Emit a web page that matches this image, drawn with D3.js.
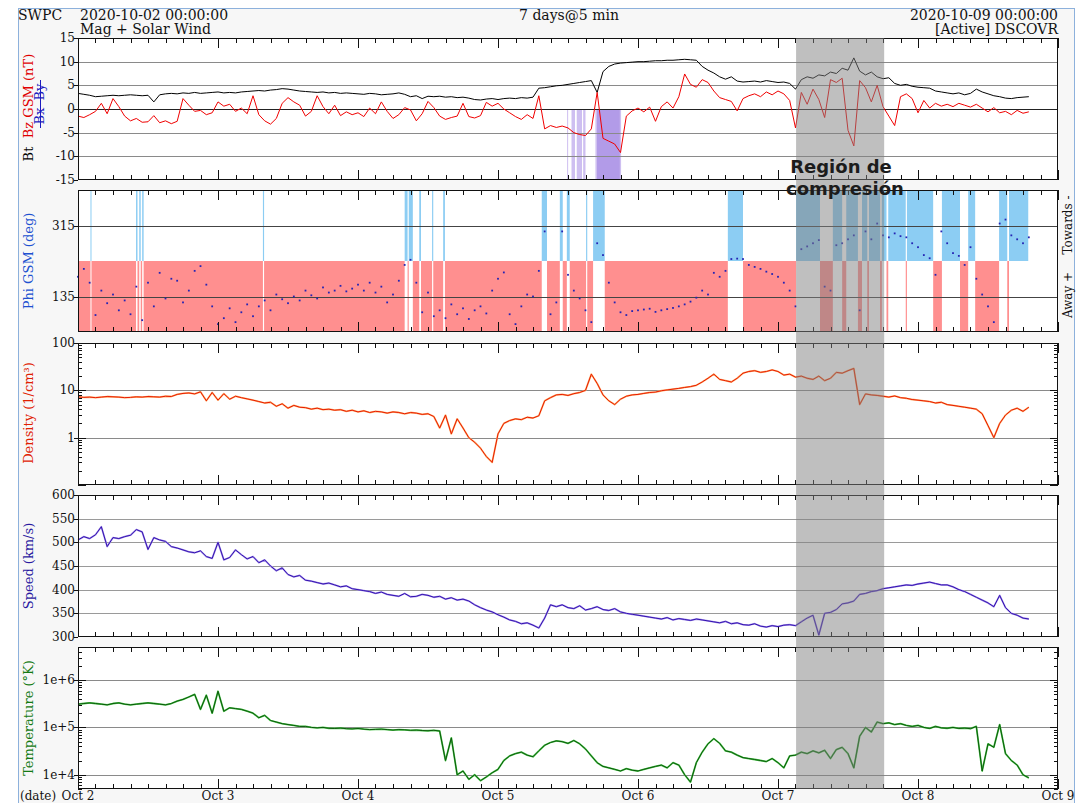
<!DOCTYPE html>
<html>
<head>
<meta charset="utf-8">
<script src="https://cdn.jsdelivr.net/npm/d3@7/dist/d3.min.js"></script>
<style>
    body { margin: 0; background: #fff; }
    svg text { font-family: "DejaVu Serif", serif; }
</style>
</head>
<body>
<svg id="chart" width="1077" height="803"></svg>
<script>
'use strict';

// one value per hour, starting 2020-10-02 00:00 UTC
var startTime = Date.UTC(2020, 9, 2, 0, 0, 0);
var hourMs = 3600 * 1000;
var dayLabels = ['Oct 2', 'Oct 3', 'Oct 4', 'Oct 5', 'Oct 6', 'Oct 7', 'Oct 8', 'Oct 9'];

var btValues = [3.3,3.1,2.9,2.6,2.7,2.8,2.9,2.8,2.9,3.0,2.9,2.8,2.9,1.5,3.0,
    3.2,3.3,3.2,3.4,3.3,3.5,3.3,3.4,3.5,3.6,
    3.4,3.5,3.4,3.6,3.7,3.8,3.9,3.8,4.0,4.1,4.3,
    4.2,4.0,3.8,3.7,3.6,3.5,3.6,3.4,3.5,3.3,3.4,3.3,
    3.2,3.1,3.3,3.2,3.0,3.1,3.2,3.4,3.1,2.6,2.8,2.2,2.7,
    2.6,2.7,2.5,2.6,2.4,2.5,2.3,2.0,1.9,2.1,2.2,
    2.0,2.2,2.3,2.2,2.4,2.3,2.5,
    4.4,4.5,4.7,4.9,5.0,5.2,5.4,5.6,5.8,6.0,
    3.5,7.9,9.0,9.5,9.7,
    9.8,9.9,10.0,10.0,10.1,10.2,10.2,10.3,10.3,10.4,10.5,10.4,10.3,
    9.0,8.2,7.6,6.8,6.3,6.8,5.9,5.7,5.8,5.9,5.7,6.0,5.8,5.6,5.7,5.4,
    4.2,6.2,6.8,6.5,7.2,7.0,7.8,7.5,8.6,
    8.2,10.8,8.0,7.2,7.8,6.8,6.4,6.6,
    5.4,5.0,5.2,4.8,4.6,4.5,4.4,
    3.8,3.6,3.4,3.2,3.4,3.0,3.3,4.2,
    3.6,3.2,2.8,2.6,2.3,2.2,2.4,2.5,2.6];

var bzValues = [-1.5,-1.8,-1.2,-0.5,1.2,-1.0,2.2,0.5,-1.5,-2.5,
    -2.0,-2.8,-2.7,-1.4,-2.9,-2.5,-3.1,-2.6,2.2,0.8,
    -0.5,-0.3,-1.2,-0.8,1.5,0.6,1.0,-0.5,0.2,-1.0,
    2.8,-1.2,-2.5,-3.2,-2.0,1.2,2.4,1.5,0.8,-1.5,
    -0.5,2.8,0.5,-1.0,0.8,-1.4,-0.6,-1.2,-0.8,-1.6,
    0.2,-1.0,1.5,-0.5,-2.0,-1.2,0.3,-0.2,-2.5,-1.0,
    1.6,0.3,-1.5,-2.2,-1.8,-1.5,1.2,-1.6,-1.9,-1.4,
    1.4,0.6,1.2,0.0,-0.8,-1.6,-2.2,-1.2,-2.0,2.8,
    -4.2,-3.5,-3.9,-3.6,-4.0,-5.0,-5.4,-5.6,-4.2,3.5,
    -6.2,-6.8,-7.4,-9.2,-1.5,-0.4,0.2,-0.6,0.4,-2.6,
    0.5,1.5,0.2,2.6,7.4,5.2,4.6,6.2,5.6,3.8,
    2.4,2.0,1.6,-0.4,2.2,2.8,3.2,2.6,3.6,3.0,
    3.8,3.2,1.8,-4.0,3.5,1.0,4.2,2.0,-1.8,6.2,
    5.6,6.5,-4.5,-7.8,6.0,4.5,1.5,5.0,0.5,-1.5,
    -3.5,2.6,3.2,2.2,-0.8,1.8,0.2,1.2,0.6,1.0,
    0.5,1.2,0.8,0.4,1.0,0.2,-0.6,0.3,-0.8,-0.5,
    -1.2,-0.3,-0.9,-0.6];

// hours with strong southward Bz (lavender bars)
var bzSouthLight = [[83.85, 84.0], [84.6, 85.2], [85.5, 86.4], [86.6, 87.0], [88.7, 88.9], [92.9, 93.1]];
var bzSouthSolid = [[88.9, 92.9]];

var phiValues = [185,205,170,88,150,118,140,100,125,90,
    160,75,170,110,195,130,180,175,120,150,
    200,212,165,110,65,80,105,70,95,115,
    85,110,125,100,140,128,118,135,125,150,
    138,130,158,145,150,162,148,155,165,150,
    170,145,160,120,140,175,215,228,170,95,
    145,85,100,80,115,90,105,78,100,110,
    92,150,180,196,90,65,110,140,135,200,
    300,90,120,300,190,150,130,100,70,270,
    240,170,120,95,88,98,100,102,104,96,
    100,103,106,110,115,122,132,150,140,195,
    185,200,230,231,230,215,210,205,198,192,
    185,170,150,110,255,262,270,278,160,150,
    265,270,280,290,100,300,280,320,290,285,
    295,288,285,270,260,240,232,190,300,270,
    245,238,215,260,180,140,110,70,320,330,
    290,280,270,285];

// hours where the field points towards the sun, the rest is away
var towardsIntervals = [[2.14, 2.31], [9.95, 10.2], [10.5, 10.75], [11.0, 11.25], [31.7, 31.9],
    [56.0, 56.5], [56.7, 57.4], [58.5, 58.8], [60.7, 60.9], [62.6, 62.9],
    [79.5, 80.4], [82.6, 83.1], [83.8, 84.3], [87.1, 87.3], [88.3, 90.3], [111.4, 114.0],
    [123.1, 127.2], [129.4, 131.0], [131.7, 133.7], [134.4, 135.3], [135.6, 137.5],
    [137.8, 138.6], [138.9, 141.9], [142.1, 146.6], [148.1, 151.2], [152.6, 153.8],
    [157.9, 159.3], [159.6, 162.9]];
var dataEndHour = 162.9;

var densityValues = [7.3,7.1,7.2,7.0,7.2,7.4,7.3,7.2,7.0,7.1,7.3,7.2,7.4,7.3,7.2,7.5,7.4,
    8.2,8.6,8.8,8.4,
    9.3,6.0,9.0,6.2,8.5,6.5,
    7.5,7.0,6.6,6.2,5.8,
    5.4,5.6,4.6,5.2,4.2,4.8,4.4,
    4.3,4.0,4.2,3.9,4.0,3.8,3.9,3.6,3.8,3.5,3.7,3.4,3.6,3.5,
    3.3,3.5,3.4,3.2,3.4,3.3,3.1,3.2,
    2.8,1.6,3.0,1.2,2.5,
    1.6,1.0,0.8,0.6,0.4,0.3,
    1.2,2.0,2.3,2.5,2.4,2.7,2.6,2.9,
    6.0,7.0,8.0,
    8.2,7.8,8.5,9.0,10.0,
    22,
    14,8.0,6.0,5.0,6.5,
    7.5,8.0,8.2,8.6,9.0,9.2,9.8,10.2,10.6,11.0,11.5,12.0,12.8,
    15,18,22,17,
    16,15,18,
    23,25,26,24,25,27,25,
    21,22,19,20,18,17,20,16,18,
    24,23,26,29,
    5.0,
    8.4,8.0,7.8,7.5,7.2,7.6,7.0,6.8,6.4,6.2,
    6.0,5.8,5.4,5.6,5.0,4.8,4.6,4.4,4.2,4.0,
    3.2,1.8,1.0,2.0,
    3.0,3.8,4.2,3.6,4.4];

var speedValues = [505,512,508,516,533,491,510,508,512,515,527,522,485,510,505,502,
    491,488,484,480,478,482,
    470,466,500,463,468,
    484,474,465,470,457,
    463,450,440,446,432,427,430,
    420,418,415,412,414,410,406,408,402,400,
    398,396,392,395,390,388,386,392,385,386,
    390,388,384,386,380,383,378,380,376,
    368,362,357,353,
    347,342,336,333,328,330,325,319,
    340,368,364,
    368,362,360,366,357,360,364,358,356,360,
    353,350,348,346,344,342,340,338,341,336,339,337,335,338,
    336,334,332,330,333,328,330,326,325,328,323,321,324,322,
    325,326,324,
    332,340,346,304,350,352,358,
    370,372,376,
    390,392,396,398,
    402,404,406,408,410,409,412,414,416,413,410,
    410,406,400,396,390,384,
    378,372,364,388,
    362,350,346,340,338];

var tempValues = [3.1e5,3.2e5,3.3e5,3.2e5,3.1e5,3.0e5,3.2e5,3.3e5,3.1e5,3.0e5,3.1e5,3.2e5,3.3e5,3.2e5,3.1e5,3.0e5,3.2e5,
    3.6e5,3.9e5,4.4e5,5.0e5,
    2.4e5,4.8e5,2.0e5,5.8e5,2.2e5,
    2.6e5,2.5e5,2.4e5,
    2.2e5,2.0e5,1.6e5,1.8e5,
    1.4e5,1.3e5,1.2e5,1.15e5,1.1e5,1.05e5,
    1.05e5,1.0e5,0.98e5,1.0e5,0.96e5,0.95e5,0.97e5,0.94e5,0.93e5,0.95e5,0.92e5,0.9e5,
    0.91e5,0.92e5,0.9e5,0.88e5,0.9e5,0.89e5,0.87e5,0.88e5,0.86e5,0.85e5,0.87e5,0.84e5,
    2.0e4,6.0e4,1.0e4,
    1.2e4,8.0e3,1.0e4,7.5e3,9.0e3,1.1e4,
    1.3e4,2.0e4,2.5e4,2.8e4,3.0e4,2.6e4,2.4e4,3.2e4,
    4.2e4,4.8e4,5.2e4,5.0e4,4.6e4,5.3e4,4.5e4,
    3.5e4,2.5e4,1.8e4,
    1.5e4,1.4e4,1.3e4,1.2e4,1.35e4,1.25e4,1.2e4,
    1.3e4,1.4e4,1.5e4,1.6e4,1.4e4,1.8e4,1.6e4,1.0e4,7.0e3,1.8e4,
    3.0e4,4.5e4,5.8e4,4.6e4,3.2e4,3.0e4,2.6e4,2.3e4,2.2e4,2.1e4,2.0e4,1.9e4,2.2e4,1.8e4,
    1.4e4,2.5e4,2.6e4,3.0e4,2.8e4,3.2e4,2.9e4,3.3e4,2.2e4,3.4e4,3.8e4,2.8e4,1.4e4,
    6.5e4,1.0e5,8.0e4,1.3e5,1.2e5,1.25e5,1.15e5,1.2e5,1.1e5,1.05e5,1.1e5,1.0e5,0.95e5,
    1.05e5,0.98e5,0.96e5,1.0e5,0.95e5,0.97e5,0.94e5,1.05e5,
    1.2e4,4.5e4,3.8e4,1.15e5,2.8e4,2.0e4,1.6e4,1.0e4,8.6e3];

// compression region, hours since start (Oct 7 ~03:05 to ~18:10)
var compression = [123.1, 138.2];

var bzTicks = [-15, -10, -5, 0, 5, 10, 15];
var phiTicks = [135, 315];
var densityTicks = [1, 10, 100];
var speedTicks = [300, 350, 400, 450, 500, 550, 600];
var tempTicks = [1e4, 1e5, 1e6];

var svg = d3.select('#chart');
var left = 78, right = 1058;
var panelTops = [38, 190, 343, 495, 647];
var panelH = 142;

function hourToDate(h) {
    return new Date(startTime + h * hourMs);
}

var x = d3.scaleUtc()
    .domain([new Date(startTime), new Date(startTime + 7 * 24 * hourMs)])
    .range([left, right]);

var yScales = [
    d3.scaleLinear().domain([-15, 15]),
    d3.scaleLinear().domain([45, 405]),
    d3.scaleLog().domain([0.1, 100]),
    d3.scaleLinear().domain([300, 600]),
    d3.scaleLog().domain([5e3, 5e6])
];
yScales.forEach(function (s, i) {
    s.range([panelTops[i] + panelH, panelTops[i]]);
});
var yBz = yScales[0], yPhi = yScales[1], yDen = yScales[2], ySpd = yScales[3], yTmp = yScales[4];

// outer frame
svg.append('rect')
    .attr('x', 18.5).attr('y', 8.5)
    .attr('width', 1056).attr('height', 800)
    .attr('fill', '#f7f7f7')
    .attr('stroke', '#8db1dc');

var layers = panelTops.map(function (top, i) {
    var g = svg.append('g').attr('class', 'panel panel' + i);
    g.append('rect')
        .attr('x', left).attr('y', top)
        .attr('width', right - left).attr('height', panelH)
        .attr('fill', '#fff');
    return g;
});

function xr(h) { return x(hourToDate(h)); }

function bars(g, intervals, y0, y1, fill, opacity) {
    g.selectAll(null)
        .data(intervals)
        .enter()
        .append('rect')
        .attr('x', function (d) { return xr(d[0]); })
        .attr('width', function (d) { return Math.max(1, xr(d[1]) - xr(d[0])); })
        .attr('y', Math.min(y0, y1))
        .attr('height', Math.abs(y1 - y0))
        .attr('fill', fill)
        .attr('opacity', opacity);
}

function grid(g, scale, values, color) {
    g.selectAll(null)
        .data(values)
        .enter()
        .append('line')
        .attr('x1', left).attr('x2', right)
        .attr('y1', function (d) { return Math.round(scale(d)) + 0.5; })
        .attr('y2', function (d) { return Math.round(scale(d)) + 0.5; })
        .attr('stroke', color)
        .attr('stroke-width', 1);
}

function series(g, values, scale, color, width) {
    var line = d3.line()
        .x(function (d, i) { return xr(i); })
        .y(function (d) { return scale(d); });
    g.append('path')
        .datum(values)
        .attr('d', line)
        .attr('fill', 'none')
        .attr('stroke', color)
        .attr('stroke-width', width)
        .attr('stroke-linejoin', 'round');
}

// panel 1: Bt / Bz
bars(layers[0], bzSouthLight, yBz(0), yBz(-15), '#c9b8f0', 0.9);
bars(layers[0], bzSouthSolid, yBz(0), yBz(-15), '#b29be8', 1);
grid(layers[0], yBz, [-10, -5, 5, 10], '#8a8a8a');
grid(layers[0], yBz, [0], '#222');
series(layers[0], btValues, yBz, '#000', 1);
series(layers[0], bzValues, yBz, '#f00000', 1);

// panel 2: phi, towards/away bands
var awayIntervals = [];
var cursor = 0;
towardsIntervals.forEach(function (d) {
    if (d[0] > cursor) awayIntervals.push([cursor, d[0]]);
    cursor = d[1];
});
if (cursor < dataEndHour) awayIntervals.push([cursor, dataEndHour]);

bars(layers[1], awayIntervals, yPhi(45), yPhi(225), '#ff8f8f', 1);
bars(layers[1], towardsIntervals, yPhi(225), yPhi(405), '#8ccdf3', 1);
grid(layers[1], yPhi, phiTicks, '#444');
layers[1].selectAll('.phiDot')
    .data(phiValues)
    .enter()
    .append('rect')
    .attr('class', 'phiDot')
    .attr('x', function (d, i) { return xr(i) - 0.9; })
    .attr('y', function (d) { return yPhi(d) - 0.9; })
    .attr('width', 1.8).attr('height', 1.8)
    .attr('fill', '#2424b4');

// panel 3: density
grid(layers[2], yDen, [1, 10], '#8a8a8a');
series(layers[2], densityValues, yDen, '#ffb070', 1.8);
series(layers[2], densityValues, yDen, '#e81c00', 1);

// panel 4: speed
grid(layers[3], ySpd, [350, 400, 450, 500, 550], '#9a9a9a');
series(layers[3], speedValues, ySpd, '#a996ea', 1.8);
series(layers[3], speedValues, ySpd, '#3412b0', 1);

// panel 5: temperature
grid(layers[4], yTmp, tempTicks, '#8a8a8a');
series(layers[4], tempValues, yTmp, '#4cc44c', 1.8);
series(layers[4], tempValues, yTmp, '#0b5a0b', 1);

// frames, time ticks, y ticks
var timeTicks = d3.utcHour.every(3).range(hourToDate(0), hourToDate(168.01));

layers.forEach(function (g, i) {
    var top = panelTops[i], bottom = top + panelH;
    var s = yScales[i];

    g.append('rect')
        .attr('x', left + 0.5).attr('y', top + 0.5)
        .attr('width', right - left - 1).attr('height', panelH - 1)
        .attr('fill', 'none')
        .attr('stroke', '#111');

    g.selectAll('.tt')
        .data(timeTicks)
        .enter()
        .append('path')
        .attr('class', 'tt')
        .attr('d', function (d) {
            var len = d.getUTCHours() === 0 ? 10 : 5;
            var px = Math.round(x(d)) + 0.5;
            return 'M' + px + ',' + top + 'v' + len + 'M' + px + ',' + bottom + 'v' + (-len);
        })
        .attr('stroke', '#111');

    if (i === 2 || i === 4) {
        var dom = s.domain();
        var minor = [];
        for (var e = Math.floor(Math.log10(dom[0])); e <= Math.ceil(Math.log10(dom[1])); e++) {
            for (var m = 1; m < 10; m++) {
                var v = m * Math.pow(10, e);
                if (v >= dom[0] && v <= dom[1]) minor.push({v: v, major: m === 1});
            }
        }
        g.selectAll('.lt')
            .data(minor)
            .enter()
            .append('path')
            .attr('class', 'lt')
            .attr('d', function (d) {
                var py = Math.round(s(d.v)) + 0.5;
                var len = d.major ? 8 : 4;
                return 'M' + left + ',' + py + 'h' + len + 'M' + right + ',' + py + 'h' + (-len);
            })
            .attr('stroke', '#111');
    }
});

function leftTicks(i, values, fmt) {
    var s = yScales[i];
    var g = layers[i];
    g.selectAll('.yl')
        .data(values)
        .enter()
        .append('path')
        .attr('d', function (d) {
            return 'M' + (left - 4) + ',' + (Math.round(s(d)) + 0.5) + 'h4';
        })
        .attr('stroke', '#111');
    g.selectAll('.ylab')
        .data(values)
        .enter()
        .append('text')
        .attr('x', left - 3)
        .attr('y', function (d) { return s(d) + 4; })
        .attr('text-anchor', 'end')
        .attr('font-size', 12)
        .attr('fill', '#111')
        .text(fmt);
}
leftTicks(0, bzTicks, function (d) { return d; });
leftTicks(1, phiTicks, function (d) { return d; });
leftTicks(2, densityTicks, function (d) { return d; });
leftTicks(3, speedTicks, function (d) { return d; });
leftTicks(4, tempTicks, function (d) { return '1e+' + Math.round(Math.log10(d)); });

// compression region overlay
svg.append('rect')
    .attr('x', xr(compression[0]))
    .attr('width', xr(compression[1]) - xr(compression[0]))
    .attr('y', panelTops[0])
    .attr('height', panelTops[4] + panelH - panelTops[0])
    .attr('fill', '#808080')
    .attr('opacity', 0.5);

// header texts
function label(txt, px, py, opts) {
    opts = opts || {};
    var t = svg.append('text')
        .attr('x', px).attr('y', py)
        .attr('font-size', opts.size || 14)
        .attr('fill', opts.color || '#111')
        .attr('text-anchor', opts.anchor || 'start')
        .text(txt);
    if (opts.rotate) t.attr('transform', 'rotate(-90,' + px + ',' + py + ')');
    if (opts.family) t.style('font-family', opts.family);
    if (opts.weight) t.attr('font-weight', opts.weight);
    return t;
}

label('SWPC', 18, 20);
label('2020-10-02 00:00:00', 80, 20);
label('Mag + Solar Wind', 80, 34);
label('7 days@5 min', 569, 20, {anchor: 'middle'});
label('2020-10-09 00:00:00', 1058, 20, {anchor: 'end'});
label('[Active] DSCOVR', 1058, 34, {anchor: 'end'});

// axis titles
label('Bt', 33, 154, {rotate: true, anchor: 'middle', size: 13, color: '#000'});
label('Bz GSM (nT)', 33, 96, {rotate: true, anchor: 'middle', size: 13, color: '#e00000'});
label('Bx', 44, 116, {rotate: true, anchor: 'middle', size: 13, color: '#1c1cc0'});
label('By', 44, 92, {rotate: true, anchor: 'middle', size: 13, color: '#1c1cc0'});
svg.append('line')
    .attr('x1', 40.5).attr('x2', 40.5)
    .attr('y1', 80).attr('y2', 128)
    .attr('stroke', '#1c1cc0');

label('Phi GSM (deg)', 33, 261, {rotate: true, anchor: 'middle', size: 13, color: '#2050d0'});
label('Density (1/cm³)', 33, 413, {rotate: true, anchor: 'middle', size: 13, color: '#e02000'});
label('Speed (km/s)', 33, 566, {rotate: true, anchor: 'middle', size: 13, color: '#2a1aa0'});
label('Temperature (°K)', 33, 718, {rotate: true, anchor: 'middle', size: 13, color: '#137a13'});
label('Towards -', 1072, 225, {rotate: true, anchor: 'middle', size: 12});
label('Away +', 1072, 295, {rotate: true, anchor: 'middle', size: 12});

// date axis
svg.selectAll('.dayLabel')
    .data(dayLabels)
    .enter()
    .append('text')
    .attr('class', 'dayLabel')
    .attr('x', function (d, i) { return xr(i * 24); })
    .attr('y', 800)
    .attr('text-anchor', 'middle')
    .attr('font-size', 12)
    .attr('fill', '#111')
    .text(function (d) { return d; });
label('(date)', 20, 800, {size: 12});

// annotation
label('Región de', 841, 173, {anchor: 'middle', size: 18, weight: 'bold', family: '"DejaVu Sans", sans-serif', color: '#1c1c1c'});
label('compresión', 845, 195, {anchor: 'middle', size: 18, weight: 'bold', family: '"DejaVu Sans", sans-serif', color: '#1c1c1c'});
</script>
</body>
</html>
